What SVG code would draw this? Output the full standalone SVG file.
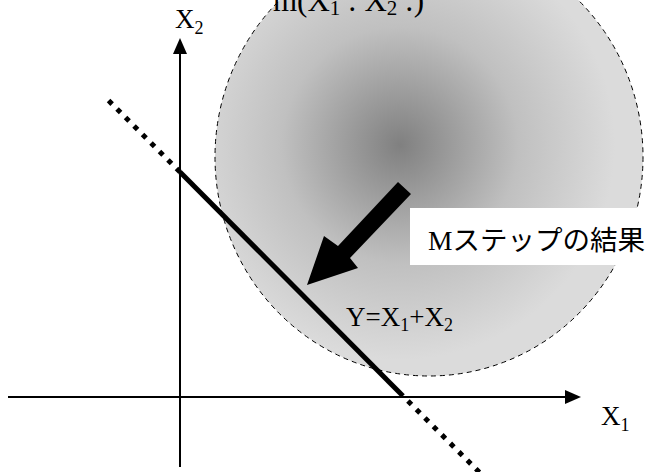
<svg xmlns="http://www.w3.org/2000/svg" width="662" height="472" viewBox="0 0 662 472">
<style>
.serif{font-family:"Liberation Serif","Times New Roman",serif;fill:#000}
.jp{font-family:"Noto Sans CJK JP",sans-serif;fill:#000}
.axis{stroke:#000;stroke-width:2;fill:none}
</style>
<defs>
<radialGradient id="g" gradientUnits="userSpaceOnUse" cx="400" cy="145" r="215">
<stop offset="0" stop-color="#808080"/>
<stop offset="0.55" stop-color="#c0c0c0"/>
<stop offset="1" stop-color="#dbdbdb"/>
</radialGradient>
</defs>
<rect width="662" height="472" fill="#fff"/>
<g id="distribution">
<ellipse cx="429" cy="157" rx="214" ry="219" fill="url(#g)" stroke="#000" stroke-width="1" stroke-dasharray="5 4"/>
<text class="serif" x="273" y="11" font-size="31">m(X<tspan font-size="21" dy="4">1</tspan><tspan dy="-4"> : X</tspan><tspan font-size="21" dy="4">2</tspan><tspan dy="-4"> :)</tspan></text>
</g>
<g id="connectors">
<line class="axis" x1="180" y1="467" x2="180" y2="50"/>
<polygon points="180,38 173,54 187,54" fill="#000"/>
<line class="axis" x1="8" y1="397" x2="568" y2="397"/>
<polygon points="581,397 565,390 565,404" fill="#000"/>
<line x1="180" y1="172" x2="403" y2="396" stroke="#000" stroke-width="5"/>
<line x1="180" y1="172" x2="108" y2="100" stroke="#000" stroke-width="5" stroke-dasharray="5 7"/>
<line x1="403" y1="396" x2="482" y2="475" stroke="#000" stroke-width="5" stroke-dasharray="5 7" stroke-dashoffset="-7"/>
<polygon points="398,182 411,194 350,258 358,268 307,285 324,236 338,246" fill="#000"/>
</g>
<g id="x2-label"><text class="serif" x="175" y="28" font-size="27">X<tspan font-size="18" dy="6">2</tspan></text></g>
<g id="x1-label"><text class="serif" x="601" y="425" font-size="27">X<tspan font-size="18" dy="6">1</tspan></text></g>
<g id="line-label"><text class="serif" x="346" y="326" font-size="27">Y=X<tspan font-size="18" dy="5">1</tspan><tspan dy="-5">+X</tspan><tspan font-size="18" dy="5">2</tspan></text></g>
<g id="m-step">
<rect x="410" y="208" width="252" height="57" fill="#fff"/>
<text x="428" y="250" font-size="27.5"><tspan class="serif">M</tspan><tspan class="jp">ステップの結果</tspan></text>
</g>
</svg>
